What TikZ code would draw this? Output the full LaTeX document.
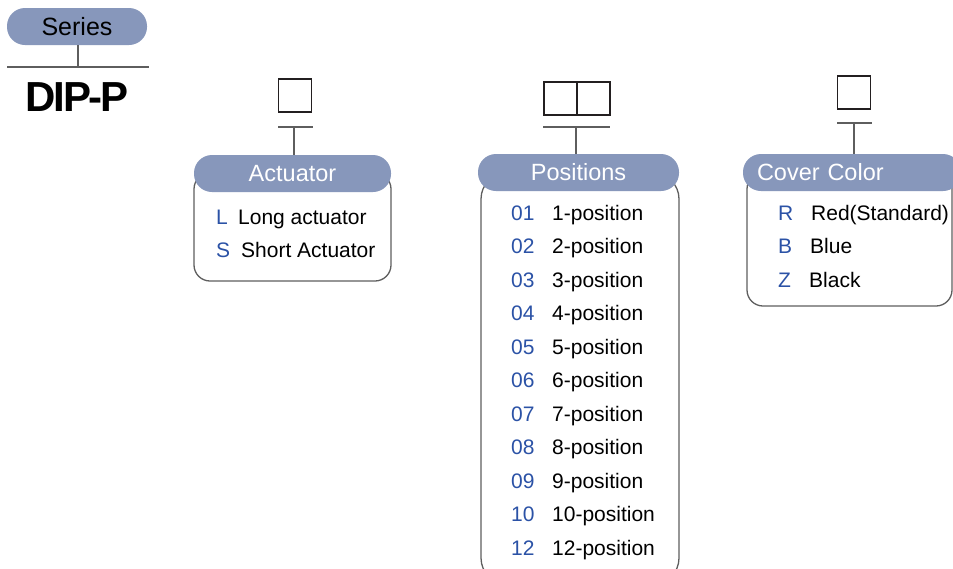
\documentclass[tikz,border=0pt]{standalone}
\usepackage{fontspec}
\setmainfont{Liberation Sans}
\begin{document}
\begin{tikzpicture}[x=1pt,y=-1pt,
  pill/.style={fill=pillBlue, text=white, rounded corners=18pt, minimum height=37pt, inner sep=0pt, font=\fontsize{23.5}{26}\selectfont},
  bodybox/.style={draw=lineGrey, line width=1.3pt, fill=white, rounded corners=16pt},
  slot/.style={draw=slotBlack, line width=1.3pt, minimum size=33pt, inner sep=0pt},
  link/.style={draw=lineGrey, line width=1.5pt},
  code/.style={anchor=base west, inner sep=0pt, text=codeBlue, font=\fontsize{21}{24}\selectfont},
  item/.style={anchor=base west, inner sep=0pt, font=\fontsize{21}{24}\selectfont}]

\definecolor{pillBlue}{HTML}{8797BB}
\definecolor{codeBlue}{HTML}{2B52A6}
\definecolor{lineGrey}{HTML}{5E5E5E}
\definecolor{slotBlack}{HTML}{231F20}

\useasboundingbox (0,0) rectangle (953,568);

% series
\node[pill, minimum width=140pt, font=\fontsize{25}{28}\selectfont, text=black] (series) at (77,26.5) {Series};
\coordinate (seriesbar) at (78,67);
\draw[link] (series.south -| seriesbar) -- (seriesbar);
\draw[link] (7,67) -- (149,67);
\node[font=\bfseries\fontsize{42}{44}\selectfont\addfontfeature{LetterSpace=-5}, inner sep=0pt] (model) at (77,97) {DIP-P};

% actuator
\node[slot] (actslot) at (295,95.5) {};
\draw[bodybox] (194,173) rectangle (391,281);
\node[pill, minimum width=197pt] (act) at (292.5,173.5) {Actuator};
\coordinate (actbar) at (294,127);
\draw[link] (act.north -| actbar) -- (actbar);
\draw[link] (278,127) -- (313,127);
\node[code] (actL) at (216,224) {L};
\node[item] (actLt) at (238,224) {Long actuator};
\node[code] (actS) at (216,257) {S};
\node[item] (actSt) at (241,257) {Short Actuator};

% positions
\node[slot] (posslotA) at (560.5,98.5) {};
\node[slot] (posslotB) at (593.5,98.5) {};
\draw[bodybox, rounded corners=26pt] (481,173) rectangle (679,584);
\node[pill, minimum width=201pt] (pos) at (578.5,172.5) {Positions};
\coordinate (posbar) at (576,127);
\draw[link] (pos.north -| posbar) -- (posbar);
\draw[link] (543,127) -- (610,127);
\foreach \n/\t [count=\i from 0] in {01/1,02/2,03/3,04/4,05/5,06/6,07/7,08/8,09/9,10/10,12/12} {
  \node[code] (posN\i) at (511,220+33.5*\i) {\n};
  \node[item] (posT\i) at (552,220+33.5*\i) {\t-position};
}

% cover color
\node[slot] (covslot) at (854,92.5) {};
\draw[bodybox] (747,173) rectangle (952,306);
\node[pill, minimum width=218pt, text width=190pt, align=left] (cov) at (852,172.5) {Cover Color};
\coordinate (covbar) at (854,123);
\draw[link] (cov.north -| covbar) -- (covbar);
\draw[link] (837,123) -- (872,123);
\node[code] (covR) at (778,220) {R};
\node[item] (covRt) at (811,220) {Red(Standard)};
\node[code] (covB) at (778,253.5) {B};
\node[item] (covBt) at (810,253.5) {Blue};
\node[code] (covZ) at (778,287) {Z};
\node[item] (covZt) at (809,287) {Black};

\end{tikzpicture}
\end{document}
